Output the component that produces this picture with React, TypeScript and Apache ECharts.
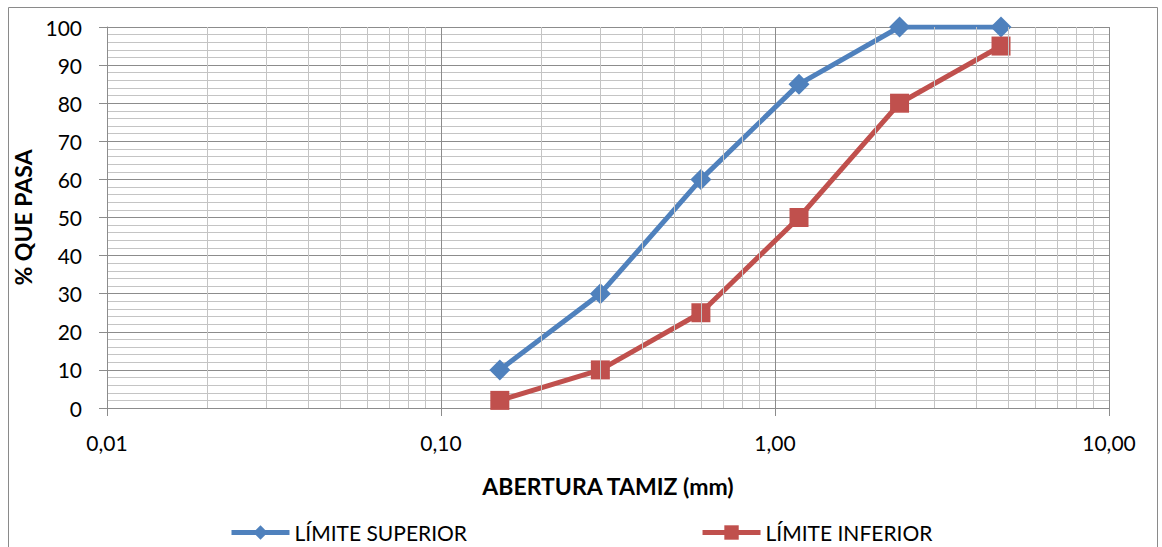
import React, { useEffect, useRef } from "react";
import * as echarts from "echarts";

const sieveSizes = [0.15, 0.3, 0.6, 1.18, 2.36, 4.75];
const upperLimit = [10, 30, 60, 85, 100, 100];
const lowerLimit = [2, 10, 25, 50, 80, 95];
const minorXGrid = [0.02, 0.03, 0.04, 0.05, 0.06, 0.07, 0.08, 0.09, 0.2, 0.3, 0.4, 0.5, 0.6, 0.7, 0.8, 0.9, 2, 3, 4, 5, 6, 7, 8, 9];
const seriesNames = ["LÍMITE SUPERIOR", "LÍMITE INFERIOR"];

const FONT = "Lato, 'Open Sans', sans-serif";

export default function App() {
  const ref = useRef<HTMLDivElement>(null);
  useEffect(() => {
    const chart = echarts.init(ref.current!, null, { renderer: "svg" });
    const major = "#8c8c8c";
    const minor = "#c4c4c4";
    chart.setOption({
      animation: false,
      backgroundColor: "#ffffff",
      textStyle: { fontFamily: FONT },
      graphic: [
        {
          type: "rect",
          shape: { x: 8.5, y: 7.5, width: 1149, height: 560 },
          style: { fill: "none", stroke: "#8a8a8a", lineWidth: 1 },
          silent: true,
          z: -10,
        },
      ],
      grid: { left: 107, right: 53, top: 27, bottom: 139, containLabel: false },
      legend: {
        data: seriesNames,
        left: 224,
        top: 517,
        itemWidth: 58,
        itemHeight: 18,
        itemGap: 233,
        lineStyle: { width: 5 },
        textStyle: { fontSize: 21, color: "#000", fontFamily: FONT },
      },
      xAxis: {
        type: "log",
        logBase: 10,
        min: 0.01,
        max: 10,
        name: "ABERTURA TAMIZ (mm)",
        nameLocation: "middle",
        nameGap: 66,
        nameTextStyle: { fontSize: 23, fontWeight: "bold", color: "#000", fontFamily: FONT },
        axisLine: { lineStyle: { color: major, width: 1 } },
        axisTick: { show: true, length: 8, lineStyle: { color: major } },
        axisLabel: {
          fontSize: 21,
          color: "#000",
          margin: 24,
          formatter: (v: number) => v.toFixed(2).replace(".", ","),
        },
        splitLine: { show: true, lineStyle: { color: major, width: 1 } },
      },
      yAxis: {
        type: "value",
        min: 0,
        max: 100,
        interval: 10,
        name: "% QUE PASA",
        nameLocation: "middle",
        nameGap: 66,
        nameTextStyle: { fontSize: 23, fontWeight: "bold", color: "#000", fontFamily: FONT },
        axisLine: { show: true, lineStyle: { color: major, width: 1 } },
        axisTick: { show: true, length: 8, lineStyle: { color: major } },
        axisLabel: { fontSize: 21, color: "#000", margin: 25 },
        splitLine: { show: true, lineStyle: { color: major, width: 1 } },
        minorTick: { show: false, splitNumber: 5 },
        minorSplitLine: { show: true, lineStyle: { color: minor, width: 1 } },
      },
      series: [
        {
          name: "gridlines",
          type: "line",
          data: sieveSizes.map((x, i) => [x, upperLimit[i]]),
          symbol: "none",
          lineStyle: { opacity: 0 },
          silent: true,
          z: 1,
          markLine: {
            silent: true,
            symbol: "none",
            label: { show: false },
            lineStyle: { color: minor, width: 1, type: "solid" },
            data: minorXGrid.map((v) => ({ xAxis: v })),
          },
        },
        {
          name: seriesNames[0],
          type: "line",
          data: sieveSizes.map((x, i) => [x, upperLimit[i]]),
          symbol: "diamond",
          symbolSize: [21, 21],
          lineStyle: { color: "#4F81BD", width: 5 },
          itemStyle: { color: "#4F81BD" },
          z: 3,
        },
        {
          name: seriesNames[1],
          type: "line",
          data: sieveSizes.map((x, i) => [x, lowerLimit[i]]),
          symbol: "rect",
          symbolSize: 19,
          lineStyle: { color: "#C0504D", width: 5 },
          itemStyle: { color: "#C0504D" },
          z: 3,
        },
      ],
    });
    return () => chart.dispose();
  }, []);
  return (
    <div
      ref={ref}
      style={{ position: "absolute", left: 0, top: 0, width: 1162, height: 547 }}
    />
  );
}
